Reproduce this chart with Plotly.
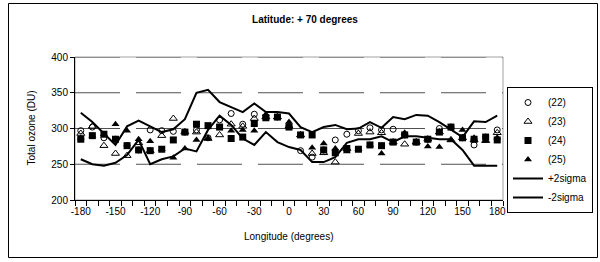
import plotly.graph_objects as go

# Longitudes (category axis)
lon = [-180, -170, -160, -150, -140, -130, -120, -110, -100, -90, -80, -70, -60, -50, -40, -30,
       -20, -10, 0, 10, 20, 30, 40, 50, 60, 70, 80, 90, 100, 110, 120, 130, 140, 150, 160, 170, 180]

s22 = [297, 302, 287, 285, 276, 270, 298, 297, 296, 295, 298, 287, 312, 321, 306, 320, 316, 316, 303,
       269, 260, 270, 284, 292, 297, 301, 298, 299, 291, 281, 285, 300, 302, 287, 277, 288, 298]
s23 = [293, 303, 276, 265, 262, 280, 269, 290, 314, 295, 295, 286, 291, 306, 303, 314, 316, 316, 303,
       291, 265, 266, 253, 272, 293, 295, 294, 281, 278, 281, 285, 295, 284, 287, 284, 283, 294]
s24 = [285, 290, 292, 285, 276, 270, 269, 271, 284, 295, 306, 304, 302, 286, 288, 307, 315, 316, 302,
       291, 291, 270, 266, 272, 271, 277, 276, 281, 291, 281, 285, 295, 302, 287, 285, 288, 284]
s25 = [287, 290, 292, 306, 297, 285, 282, 271, 259, 272, 284, 286, 302, 297, 298, 297, 320, 316, 309,
       291, 273, 279, 272, 268, 271, 277, 265, 280, 294, 280, 275, 274, 284, 298, 287, 283, 287]
plus2sigma = [322, 309, 293, 277, 303, 311, 303, 295, 299, 313, 350, 354, 337, 330, 323, 335, 323, 323, 321,
              302, 295, 302, 305, 299, 300, 309, 301, 316, 313, 319, 318, 309, 298, 288, 310, 309, 318]
minus2sigma = [257, 250, 248, 252, 263, 284, 250, 257, 261, 272, 268, 298, 318, 305, 286, 277, 295, 281, 274,
               270, 253, 253, 260, 280, 285, 285, 289, 281, 289, 289, 287, 285, 285, 270, 248, 248, 248]

x_ticks = [-180, -150, -120, -90, -60, -30, 0, 30, 60, 90, 120, 150, 180]
y_ticks = [200, 250, 300, 350, 400]
grid_levels = [250, 300, 350, 400]

FONT = "Liberation Sans, Arial, sans-serif"

fig = go.Figure()

fig.add_trace(go.Scatter(x=lon, y=plus2sigma, mode="lines", name="+2sigma",
                         line=dict(color="black", width=2), legendrank=5))
fig.add_trace(go.Scatter(x=lon, y=minus2sigma, mode="lines", name="-2sigma",
                         line=dict(color="black", width=2), legendrank=6))
fig.add_trace(go.Scatter(x=lon, y=s22, mode="markers", name="(22)", legendrank=1,
                         marker=dict(symbol="circle-open", size=6, color="black", line=dict(width=1))))
fig.add_trace(go.Scatter(x=lon, y=s23, mode="markers", name="(23)", legendrank=2,
                         marker=dict(symbol="triangle-up-open", size=7, color="black", line=dict(width=1))))
fig.add_trace(go.Scatter(x=lon, y=s24, mode="markers", name="(24)", legendrank=3,
                         marker=dict(symbol="square", size=7, color="black")))
fig.add_trace(go.Scatter(x=lon, y=s25, mode="markers", name="(25)", legendrank=4,
                         marker=dict(symbol="triangle-up", size=7, color="black")))

L, R, T, B = 75, 97, 57, 62
W, H = 600, 262
pw, ph = W - L - R, H - T - B

def px_x(px):
    return (px - L) / pw

def px_y(py):
    return (H - B - py) / ph

shapes = [
    dict(type="rect", xref="paper", yref="paper", x0=0, x1=1, y0=0, y1=1,
         line=dict(color="#a0a0a0", width=1), layer="below"),
    dict(type="rect", xref="paper", yref="paper",
         x0=px_x(8.5), x1=px_x(597.5), y0=px_y(257.5), y1=px_y(3.5),
         line=dict(color="black", width=1), layer="below"),
]
for g in grid_levels:
    shapes.append(dict(type="line", xref="paper", yref="y", x0=0, x1=1, y0=g, y1=g,
                       line=dict(color="#505050", width=1, dash="45px,16px"), layer="below"))

fig.update_layout(
    width=W, height=H,
    margin=dict(l=L, r=R, t=T, b=B, pad=0, autoexpand=False),
    paper_bgcolor="white", plot_bgcolor="white",
    font=dict(family=FONT, size=10, color="black"),
    title=dict(text="<b>Latitude: + 70 degrees</b>", font=dict(size=10, family=FONT),
               x=305 / W, xref="container", xanchor="center",
               y=1 - 19 / H, yref="container", yanchor="middle"),
    showlegend=True,
    hovermode=False,
    legend=dict(x=px_x(507), y=px_y(87), xanchor="left", yanchor="top",
                bordercolor="black", borderwidth=1, bgcolor="white",
                font=dict(size=10, family=FONT), tracegroupgap=0, itemwidth=30),
    xaxis=dict(range=[-185, 185], tickvals=x_ticks, ticktext=[str(v) for v in x_ticks],
               ticks="", showgrid=False, zeroline=False, showline=True, linecolor="black",
               linewidth=1, ticklabelstandoff=2, automargin=False,
               minor=dict(ticks="outside", tick0=-185, dtick=10, ticklen=5,
                          tickcolor="black", showgrid=False)),
    yaxis=dict(range=[200, 400], tickvals=y_ticks, ticks="outside", ticklen=4,
               tickcolor="black", showline=True, linecolor="black", linewidth=1,
               zeroline=False, showgrid=False, automargin=False),
    annotations=[
        dict(text="Total ozone (DU)", xref="paper", yref="paper", x=px_x(31), y=0.5,
             textangle=-90, showarrow=False, font=dict(size=10, family=FONT),
             xanchor="center", yanchor="middle"),
        dict(text="Longitude (degrees)", xref="paper", yref="paper", x=0.5, y=px_y(236),
             showarrow=False, font=dict(size=10, family=FONT),
             xanchor="center", yanchor="middle"),
    ],
    shapes=shapes,
)

fig.write_html("out.html",
               config={"displayModeBar": False, "staticPlot": True},
               post_script="document.body.style.margin='0';document.body.style.overflow='hidden';")
